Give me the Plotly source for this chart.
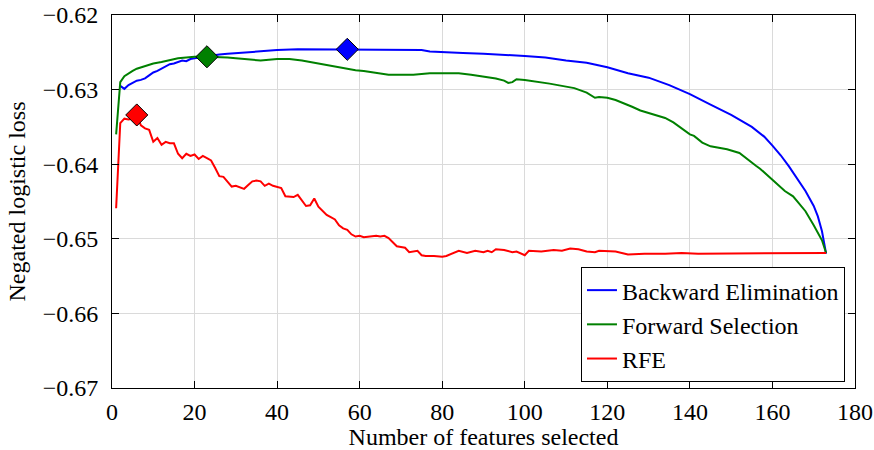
import plotly.graph_objects as go

# Backward Elimination
be_x = [2,3,4,5,6,7,8,9,10,11,12,13,14,15,16,17,18,19,20,22,24,26,28,30,35,40,45,50,57,60,65,70,75,77,80,85,90,95,100,105,110,115,120,125,130,135,140,145,150,155,158,160,162,164,166,168,170,171,172,173]
be_y = [-0.6295,-0.6299,-0.6294,-0.6291,-0.6288,-0.6287,-0.6285,-0.6281,-0.6277,-0.6275,-0.6272,-0.6268,-0.6266,-0.6265,-0.6263,-0.6261,-0.6262,-0.6259,-0.6258,-0.6256,-0.6254,-0.6253,-0.6252,-0.6251,-0.6249,-0.6247,-0.6246,-0.6246,-0.6246,-0.6246,-0.6246,-0.6246,-0.6247,-0.6249,-0.6250,-0.6251,-0.6252,-0.6253,-0.6255,-0.6257,-0.6261,-0.6264,-0.6270,-0.6278,-0.6284,-0.6294,-0.6306,-0.6320,-0.6334,-0.6350,-0.6363,-0.6375,-0.6388,-0.6403,-0.6419,-0.6436,-0.6456,-0.6470,-0.6490,-0.6520]

# Forward Selection
fs_x = [1,2,3,4,5,6,7,8,9,10,12,14,16,18,20,23,26,28,30,33,36,40,43,46,50,53,55,57,59,61,63,65,67,70,73,77,80,84,87,90,93,95,96,97,98,100,103,106,109,112,115,117,118,120,122,124,126,128,130,132,134,136,138,140,141,143,145,147,149,152,154,156,157,158,160,161,163,165,167,168,170,172,173]
fs_y = [-0.6360,-0.6290,-0.6282,-0.6278,-0.6275,-0.6272,-0.6270,-0.6268,-0.6267,-0.6265,-0.6263,-0.6260,-0.6258,-0.6257,-0.6256,-0.6256,-0.6256,-0.6257,-0.6258,-0.6260,-0.6261,-0.6259,-0.6259,-0.6261,-0.6265,-0.6269,-0.6270,-0.6272,-0.6274,-0.6275,-0.6277,-0.6279,-0.6280,-0.6280,-0.6280,-0.6278,-0.6278,-0.6278,-0.6280,-0.6282,-0.6285,-0.6288,-0.6291,-0.6290,-0.6286,-0.6287,-0.6289,-0.6292,-0.6295,-0.6298,-0.6304,-0.6311,-0.6310,-0.6311,-0.6314,-0.6318,-0.6323,-0.6328,-0.6331,-0.6334,-0.6338,-0.6344,-0.6352,-0.6360,-0.6362,-0.6371,-0.6376,-0.6378,-0.6380,-0.6385,-0.6394,-0.6402,-0.6406,-0.6411,-0.6420,-0.6426,-0.6436,-0.6443,-0.6456,-0.6463,-0.6482,-0.6502,-0.6519]

# RFE
rfe_x = [1,2,3,4,5,6,7,8,9,10,11,12,13,14,15,16,17,18,19,20,21,22,23,24,25,26,27,28,29,30,31,32,33,34,35,36,37,38,39,40,41,42,43,44,45,46,47,48,49,50,51,52,53,54,55,56,57,58,59,60,61,62,63,64,65,66,67,68,69,70,71,72,73,74,75,76,78,80,81,82,84,86,88,90,91,92,93,95,97,98,100,101,104,107,109,111,113,115,117,118,122,125,129,134,138,142,146,150,154,158,162,166,170,173]
rfe_y = [-0.6459,-0.6345,-0.6339,-0.6340,-0.6339,-0.6334,-0.6348,-0.6352,-0.6354,-0.6370,-0.6365,-0.6374,-0.6370,-0.6372,-0.6372,-0.6386,-0.6392,-0.6386,-0.6389,-0.6387,-0.6393,-0.6389,-0.6392,-0.6395,-0.6405,-0.6416,-0.6417,-0.6424,-0.6430,-0.6429,-0.6431,-0.6433,-0.6428,-0.6423,-0.6422,-0.6423,-0.6429,-0.6426,-0.6429,-0.6430,-0.6432,-0.6443,-0.6444,-0.6444,-0.6441,-0.6448,-0.6456,-0.6455,-0.6446,-0.6457,-0.6462,-0.6468,-0.6471,-0.6474,-0.6482,-0.6486,-0.6488,-0.6494,-0.6497,-0.6496,-0.6498,-0.6497,-0.6497,-0.6496,-0.6497,-0.6496,-0.6499,-0.6504,-0.6510,-0.6511,-0.6512,-0.6518,-0.6517,-0.6516,-0.6522,-0.6523,-0.6523,-0.6524,-0.6523,-0.6521,-0.6516,-0.6519,-0.6516,-0.6518,-0.6516,-0.6518,-0.6514,-0.6515,-0.6518,-0.6517,-0.6522,-0.6516,-0.6517,-0.6515,-0.6516,-0.6513,-0.6514,-0.6517,-0.6518,-0.6516,-0.6517,-0.6521,-0.6520,-0.6520,-0.6519,-0.6520,-0.6520,-0.6520,-0.6519,-0.6520,-0.6520,-0.6519,-0.6520,-0.6519]

# best points
best_x = [57, 23, 6]
best_y = [-0.6246, -0.6256, -0.6334]

names = ["Backward Elimination", "Forward Selection", "RFE"]
colors = ["rgb(0,0,255)", "rgb(0,128,0)", "rgb(255,0,0)"]
series = [(be_x, be_y), (fs_x, fs_y), (rfe_x, rfe_y)]

FONT = "'Liberation Serif', 'Times New Roman', 'DejaVu Serif', serif"
FS = 24

fig = go.Figure()
for (xs, ys), n, c in zip(series, names, colors):
    fig.add_trace(go.Scatter(x=xs, y=ys, mode="lines", name=n,
                             line=dict(color=c, width=2)))
for bx, by, c in zip(best_x, best_y, colors):
    fig.add_trace(go.Scatter(x=[bx], y=[by], mode="markers", showlegend=False,
                             marker=dict(symbol="diamond", size=17, color=c,
                                         line=dict(color="black", width=1))))

axis_common = dict(
    showline=True, linecolor="black", linewidth=1, mirror="ticks",
    ticks="inside", ticklen=7, tickcolor="black", tickwidth=1,
    showgrid=True, gridcolor="rgb(218,218,218)", gridwidth=1,
    zeroline=False, automargin=False,
    tickfont=dict(family=FONT, size=FS, color="black"),
)

fig.update_xaxes(range=[0, 180], dtick=20, tick0=0,
                 title=dict(text="Number of features selected",
                            font=dict(family=FONT, size=FS, color="black"), standoff=6),
                 ticklabelstandoff=2, **axis_common)
fig.update_yaxes(range=[-0.67, -0.62], dtick=0.01, tick0=-0.67, tickformat=".2f",
                 title=dict(text="Negated logistic loss",
                            font=dict(family=FONT, size=FS, color="black"), standoff=10),
                 ticklabelstandoff=8, **axis_common)

fig.update_layout(
    width=874, height=450,
    margin=dict(l=112, r=19, t=15, b=62),
    paper_bgcolor="white", plot_bgcolor="white",
    font=dict(family=FONT, size=FS, color="black"),
    legend=dict(x=0.9865, y=0.016, xanchor="right", yanchor="bottom",
                bgcolor="white", bordercolor="black", borderwidth=1,
                font=dict(family=FONT, size=FS, color="black"),
                tracegroupgap=0),
    showlegend=True,
)

fig.write_html("out.html")
